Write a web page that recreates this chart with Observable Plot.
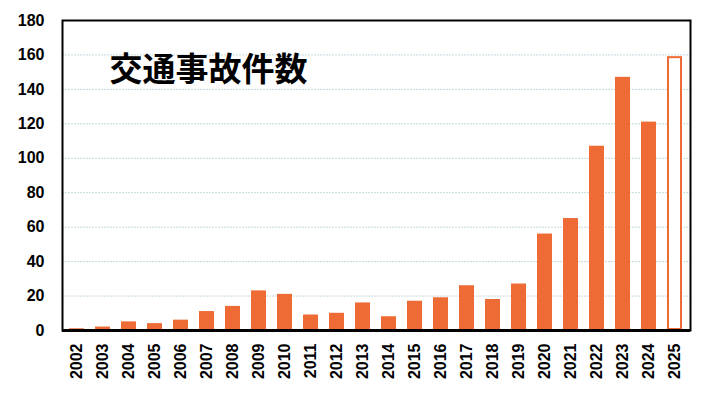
<!DOCTYPE html>
<html><head><meta charset="utf-8">
<script src="https://cdn.jsdelivr.net/npm/d3@7"></script>
<script src="https://cdn.jsdelivr.net/npm/@observablehq/plot@0.6"></script>
<style>
html,body{margin:0;padding:0;background:#fff;}
</style>
</head><body>
<div id="chart"></div>
<script>
const years = ["2002","2003","2004","2005","2006","2007","2008","2009","2010","2011","2012","2013","2014","2015","2016","2017","2018","2019","2020","2021","2022","2023","2024","2025"];
const counts = [1,2,5,4,6,11,14,23,21,9,10,16,8,17,19,26,18,27,56,65,107,147,121,159];
const provisional = ["2025"];
const yTicks = [0,20,40,60,80,100,120,140,160,180];
const title = "交通事故件数";

const data = years.map((y,i)=>({year:y, count:counts[i], prov: provisional.includes(y)}));

const chart = Plot.plot({
  width: 712,
  height: 393,
  marginLeft: 62,
  marginRight: 22,
  marginTop: 20,
  marginBottom: 63,
  style: {fontFamily: "'Liberation Sans', Arial, sans-serif", background: "#fff"},
  x: {domain: years, paddingInner: 0.42, paddingOuter: 0.2, label: null, tickSize: 0, tickRotate: -90, tickPadding: 13},
  y: {domain: [0,180], ticks: yTicks, label: null, tickSize: 0, tickPadding: 18},
  marks: [
    Plot.gridY(yTicks.filter(d=>d>0 && d<180), {stroke: "#c3d8dc", strokeOpacity: 1, strokeWidth: 1, strokeDasharray: "2,1"}),
    Plot.barY(data.filter(d=>!d.prov), {x: "year", y: "count", fill: "#ee6b35"}),
    Plot.barY(data.filter(d=>d.prov), {x: "year", y: "count", fill: "#fff", stroke: "#ee6b35", strokeWidth: 2, inset: 1}),
    Plot.frame({stroke: "#000", strokeWidth: 2}),
    Plot.ruleY([0], {stroke: "#000", strokeWidth: 3}),
    Plot.text([title], {frameAnchor: "top-left", dx: 47, dy: 37, fontSize: 33, fontWeight: "bold", fill: "#000", fontFamily: "'Noto Sans CJK JP', sans-serif", textAnchor: "start", lineAnchor: "top"})
  ]
});
chart.querySelectorAll("g[aria-label$='tick label']").forEach(g=>{g.setAttribute("font-size","16");g.setAttribute("font-weight","bold");g.setAttribute("fill","#000");});
document.getElementById("chart").appendChild(chart);
</script>
</body></html>
